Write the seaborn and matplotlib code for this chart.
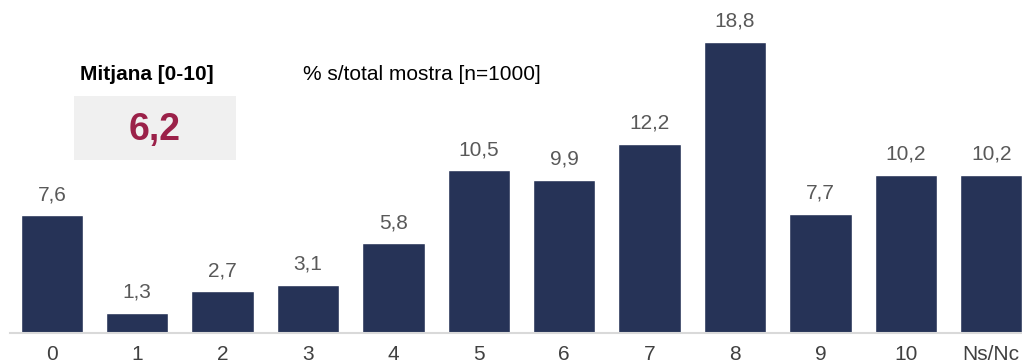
import matplotlib
matplotlib.use("Agg")
import matplotlib.pyplot as plt
import seaborn as sns
import pandas as pd
from matplotlib.patches import Rectangle

categories = ["0", "1", "2", "3", "4", "5", "6", "7", "8", "9", "10", "Ns/Nc"]
values = [7.6, 1.3, 2.7, 3.1, 5.8, 10.5, 9.9, 12.2, 18.8, 7.7, 10.2, 10.2]
mean_title = "Mitjana [0-10]"
mean_value = "6,2"
subtitle = "% s/total mostra [n=1000]"

sns.set_style("white")
plt.rcParams['font.family'] = ['Liberation Sans', 'DejaVu Sans']

df = pd.DataFrame({"cat": categories, "val": values})

fig = plt.figure(figsize=(10.22, 3.64), dpi=100)
ax = fig.add_axes([10 / 1022, 31 / 364, 1023 / 1022, 310 / 364])

sns.barplot(data=df, x="cat", y="val", color="#263357", width=0.73,
            saturation=1, ax=ax)

for i, v in enumerate(values):
    ax.text(i, v + 0.97, "{:.1f}".format(v).replace(".", ","), ha="center",
            va="baseline", fontsize=15, color="#595959")

ax.set_xlim(-0.49, 11.49)
ax.set_ylim(0, 20)
ax.set_xlabel("")
ax.set_ylabel("")
ax.set_yticks([])
ax.tick_params(axis="x", length=0, labelsize=15, colors="#404040", pad=9)
for s in ["top", "right", "left"]:
    ax.spines[s].set_visible(False)
ax.spines["bottom"].set_color("#d9d9d9")
ax.spines["bottom"].set_linewidth(1.5)

# caixa amb la mitjana
fig.patches.append(Rectangle((74 / 1022, 1 - 160 / 364), 162 / 1022, 64 / 364,
                             transform=fig.transFigure, facecolor="#f0f0f0",
                             edgecolor="none"))
fig.text(147 / 1022, 1 - 74 / 364, mean_title, ha="center", va="center",
         fontsize=15, fontweight="bold", color="black")
fig.text(155 / 1022, 1 - 130 / 364, mean_value, ha="center", va="center",
         fontsize=27, fontweight="bold", color="#9b2149")
fig.text(303 / 1022, 1 - 75 / 364, subtitle, ha="left", va="center",
         fontsize=15, color="black")

plt.savefig("out.png", dpi=100)
